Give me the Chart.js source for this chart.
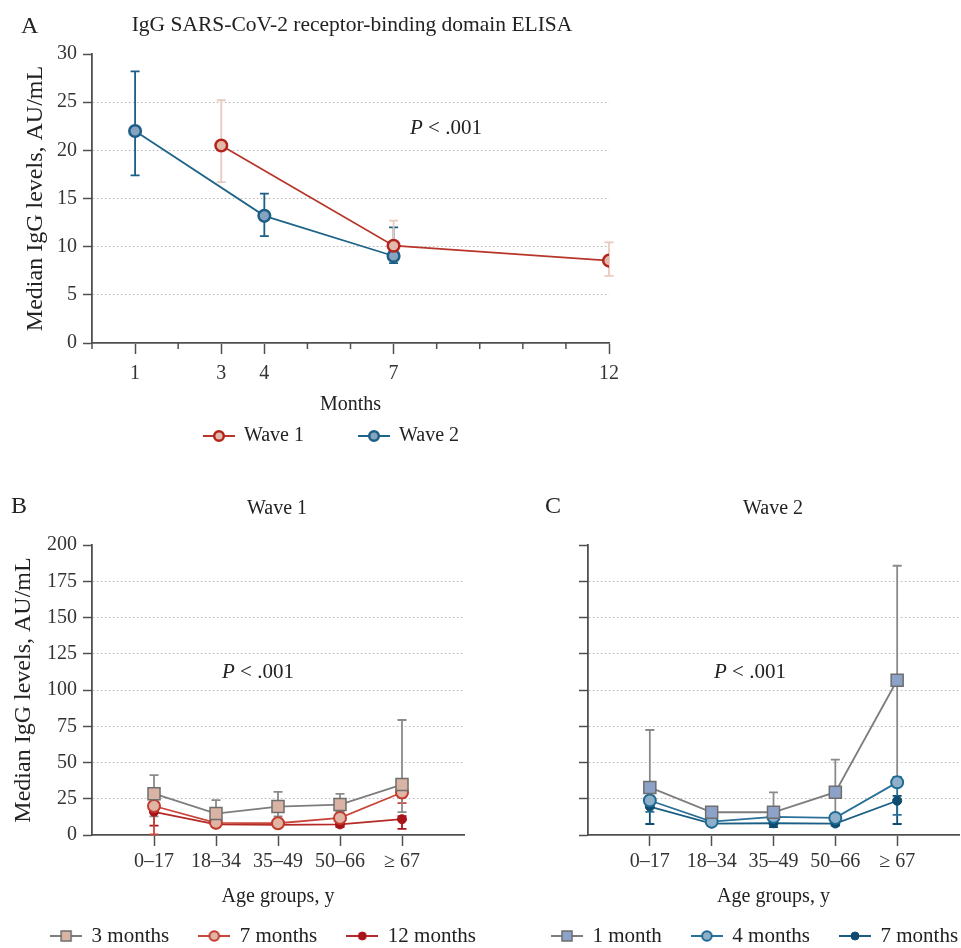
<!DOCTYPE html>
<html><head><meta charset="utf-8">
<script src="https://cdn.jsdelivr.net/npm/chart.js@4.4.1/dist/chart.umd.min.js"></script>
<style>
html,body{margin:0;padding:0;background:#fff;overflow:hidden;width:961px;height:948px;}
body{position:relative;font-family:'Liberation Serif',serif;color:#222;}
canvas{position:absolute;}
.t{position:absolute;white-space:nowrap;line-height:1;transform:translate(-50%,-50%);}
.l{position:absolute;white-space:nowrap;line-height:1;transform:translateY(-50%);}
</style></head><body>
<canvas id="cA" width="663" height="460" style="left:0;top:0"></canvas>
<canvas id="cB" width="527" height="490" style="left:0;top:470px"></canvas>
<canvas id="cC" width="510" height="490" style="left:500px;top:470px"></canvas>
<div class="l" style="left:21px;top:25px;font-size:24px">A</div>
<div class="t" style="left:352px;top:25px;font-size:21.5px">IgG SARS-CoV-2 receptor-binding domain ELISA</div>
<div class="t" style="left:446px;top:127px;font-size:21px"><i>P</i> &lt; .001</div>
<div class="l" style="left:11px;top:505px;font-size:24px">B</div>
<div class="l" style="left:545px;top:505px;font-size:24px">C</div>
<div class="t" style="left:277px;top:507px;font-size:20px">Wave 1</div>
<div class="t" style="left:773px;top:507px;font-size:20px">Wave 2</div>
<div class="t" style="left:258px;top:671px;font-size:21px"><i>P</i> &lt; .001</div>
<div class="t" style="left:750px;top:671px;font-size:21px"><i>P</i> &lt; .001</div>
<script>
// ---------- Panel A data ----------
const monthsWave1 = [3, 7, 12];
const wave1Median = [20.5, 10.1, 8.55];
const wave1Low = [16.7, 8.8, 6.97];
const wave1High = [25.2, 12.7, 10.45];
const monthsWave2 = [1, 4, 7];
const wave2Median = [22.0, 13.2, 9.03];
const wave2Low = [17.4, 11.1, 8.3];
const wave2High = [28.2, 15.5, 12.0];
const monthTickLabels = [1, 3, 4, 7, 12];

// ---------- Panels B / C data ----------
const ageGroups = ['0–17', '18–34', '35–49', '50–66', '≥ 67'];
// Wave 1
const w1m3 = [28.5, 14.8, 19.6, 21.0, 34.8];
const w1m3Low = [12.8, 11.5, 12.8, 16.0, 15.8];
const w1m3High = [41.3, 24.0, 29.7, 28.4, 79.3];
const w1m7 = [20.0, 8.4, 8.1, 11.8, 29.3];
const w1m7Low = [0.5, 6.5, 6.5, 9.0, 22.0];
const w1m7High = [23.0, 10.5, 10.0, 14.0, 33.0];
const w1m12 = [16.0, 7.3, 7.0, 7.3, 10.9];
const w1m12Low = [6.5, 5.5, 5.5, 5.5, 4.2];
const w1m12High = [18.5, 8.5, 8.5, 8.5, 13.0];
// Wave 2
const w2m1 = [32.8, 15.7, 15.7, 29.5, 106.7];
const w2m1Low = [22.0, 13.0, 12.0, 10.0, 36.0];
const w2m1High = [72.4, 17.5, 29.4, 52.0, 185.7];
const w2m4 = [23.8, 9.2, 12.5, 11.8, 36.3];
const w2m4Low = [16.0, 7.5, 9.0, 9.0, 13.9];
const w2m4High = [26.0, 11.0, 14.5, 13.5, 40.0];
const w2m7 = [19.6, 7.9, 8.1, 7.9, 23.6];
const w2m7Low = [7.6, 6.5, 5.5, 6.5, 7.6];
const w2m7High = [22.0, 9.5, 10.0, 9.5, 27.0];

const FONT = "'Liberation Serif', serif";
const AXIS = '#505050';
const GRID = '#b4b4b4';
const TXT = '#222';

function pts(xs, ys) { return xs.map((x, i) => ({x: x, y: ys[i]})); }
function catPts(ys) { return ys.map((y, i) => ({x: i + 1, y: y})); }

function legendIcon(ds) {
  const c = document.createElement('canvas');
  c.width = 32; c.height = 16;
  const g = c.getContext('2d');
  g.strokeStyle = ds.borderColor; g.lineWidth = 2;
  g.beginPath(); g.moveTo(0, 8); g.lineTo(32, 8); g.stroke();
  g.fillStyle = ds.pointBackgroundColor; g.strokeStyle = ds.pointBorderColor; g.lineWidth = ds.pointBorderWidth;
  if (ds.pointStyle === 'rect') {
    g.fillRect(11, 3, 10, 10); g.strokeRect(11, 3, 10, 10);
  } else {
    const r = ds.pointRadius > 5 ? 4.8 : 4;
    g.beginPath(); g.arc(16, 8, r, 0, Math.PI * 2); g.fill(); g.stroke();
  }
  return c;
}

const errorBars = {
  id: 'errorBars',
  beforeDatasetsDraw(chart) {
    const ctx = chart.ctx;
    const ys = chart.scales.y;
    for (let i = chart.data.datasets.length - 1; i >= 0; i--) {
      const ds = chart.data.datasets[i];
      if (!ds.errLow) continue;
      const meta = chart.getDatasetMeta(i);
      ctx.save();
      ctx.strokeStyle = ds.errColor;
      ctx.lineWidth = ds.errWidth || 1.8;
      meta.data.forEach((pt, j) => {
        const x = pt.x;
        const yl = ys.getPixelForValue(ds.errLow[j]);
        const yh = ys.getPixelForValue(ds.errHigh[j]);
        const c = 4.5;
        ctx.beginPath();
        ctx.moveTo(x, yl); ctx.lineTo(x, yh);
        ctx.moveTo(x - c, yl); ctx.lineTo(x + c, yl);
        ctx.moveTo(x - c, yh); ctx.lineTo(x + c, yh);
        ctx.stroke();
      });
      ctx.restore();
    }
  }
};

const minorTicks = {
  id: 'minorTicks',
  afterDraw(chart, args, opts) {
    if (!opts.values) return;
    const xs = chart.scales.x;
    const ctx = chart.ctx;
    ctx.save();
    ctx.strokeStyle = AXIS; ctx.lineWidth = 1.5;
    opts.values.forEach(v => {
      const x = xs.getPixelForValue(v);
      ctx.beginPath(); ctx.moveTo(x, xs.top); ctx.lineTo(x, xs.top + 6); ctx.stroke();
    });
    ctx.restore();
  }
};

function lineDs(label, data, o) {
  return Object.assign({
    label: label, data: data, type: 'line', showLine: true, tension: 0,
    borderWidth: 1.8, pointBorderWidth: 2, pointStyle: 'circle', pointRadius: 6,
    errWidth: 1.8
  }, o);
}

function yAxis(max, step, width, showLabels, titlePad) {
  return {
    type: 'linear', min: 0, max: max,
    ticks: {stepSize: step, padding: 6, display: showLabels, color: '#333', font: {family: FONT, size: 20}},
    grid: {color: c => (c.tick && (c.tick.value === 0 || c.tick.value === max)) ? 'rgba(0,0,0,0)' : GRID,
           lineWidth: 1, tickLength: 9, tickColor: AXIS, tickWidth: 1.5},
    border: {color: AXIS, width: 1.8, dash: [1.5, 2.5]},
    title: {display: showLabels, text: 'Median IgG levels, AU/mL', color: TXT,
            font: {family: FONT, size: 24}, padding: {top: titlePad, bottom: 0}},
    afterFit: s => { s.width = width; }
  };
}
function dummyRight(width) {
  return {type: 'linear', position: 'right', display: true,
    grid: {display: false, drawTicks: false}, ticks: {display: false}, border: {display: false},
    afterFit: s => { s.width = width; }};
}
function legendOpts(size, padding, titleShift) {
  const o = {
    position: 'bottom',
    labels: {
      usePointStyle: true, pointStyleWidth: 30, padding: padding, color: TXT,
      font: {family: FONT, size: size},
      generateLabels: chart => chart.data.datasets.map((ds, i) => ({
        text: ds.label, pointStyle: legendIcon(ds), datasetIndex: i, hidden: false,
        lineWidth: 0, fillStyle: 'rgba(0,0,0,0)', strokeStyle: 'rgba(0,0,0,0)', fontColor: TXT
      }))
    }
  };
  if (titleShift) {
    o.title = {display: true, text: '', font: {size: 10}, padding: {top: titleShift, bottom: titleShift}};
  }
  return o;
}

// ---------- Panel A ----------
new Chart(document.getElementById('cA'), {
  type: 'line',
  data: {datasets: [
    lineDs('Wave 1', pts(monthsWave1, wave1Median), {
      borderColor: '#b8352a', pointBorderColor: '#b3241c', pointBackgroundColor: '#e3b9ab', pointBorderWidth: 2.5, pointRadius: 5.8,
      errLow: wave1Low, errHigh: wave1High, errColor: '#e8cabf'}),
    lineDs('Wave 2', pts(monthsWave2, wave2Median), {
      borderColor: '#1f6489', pointBorderColor: '#1c5e86', pointBackgroundColor: '#86a3c0', pointBorderWidth: 2.5, pointRadius: 5.8,
      errLow: wave2Low, errHigh: wave2High, errColor: '#1c5e86'})
  ]},
  options: {
    responsive: false, animation: false, devicePixelRatio: 1,
    layout: {padding: {left: 0, right: 0, top: 54, bottom: 4}},
    scales: {
      x: {type: 'linear', min: 0, max: 12,
        ticks: {stepSize: 1, autoSkip: false, maxRotation: 0, padding: 8, color: '#333', font: {family: FONT, size: 20},
          callback: v => monthTickLabels.includes(v) ? String(v) : ''},
        grid: {drawOnChartArea: false, tickLength: 11, tickWidth: 1.5,
          tickColor: c => (c.tick && monthTickLabels.includes(c.tick.value)) ? AXIS : 'rgba(0,0,0,0)'},
        border: {color: AXIS, width: 1.8},
        title: {display: true, text: 'Months', color: TXT, font: {family: FONT, size: 20}, padding: {top: 0, bottom: -29}},
        afterFit: s => { s.height = 45; }
      },
      y: yAxis(30, 5, 92, true, 21.6),
      yR: dummyRight(54)
    },
    plugins: {tooltip: {enabled: false}, legend: legendOpts(20, 55, -14.5), minorTicks: {values: [0, 2, 5, 6, 8, 9, 10, 11]}}
  },
  plugins: [errorBars, minorTicks]
});

function ageX() {
  return {type: 'linear', min: 0, max: 6,
    ticks: {stepSize: 1, autoSkip: false, maxRotation: 0, padding: 4, color: '#333', font: {family: FONT, size: 20},
      callback: v => (v >= 1 && v <= 5) ? ageGroups[v - 1] : ''},
    grid: {drawOnChartArea: false, tickLength: 11, tickWidth: 1.5,
      tickColor: c => (c.tick && c.tick.value >= 1 && c.tick.value <= 5) ? AXIS : 'rgba(0,0,0,0)'},
    border: {color: AXIS, width: 1.8},
    title: {display: true, text: 'Age groups, y', color: TXT, font: {family: FONT, size: 20}, padding: {top: 0, bottom: -13.5}},
    afterFit: s => { s.height = 60.5; }
  };
}

// ---------- Panel B ----------
new Chart(document.getElementById('cB'), {
  type: 'line',
  data: {datasets: [
    lineDs('3 months', catPts(w1m3), {
      borderColor: '#7d7d7d', pointStyle: 'rect', pointRadius: 8.5, pointBorderColor: '#6e6e6e', pointBackgroundColor: '#d9b3a3', pointBorderWidth: 1.5,
      errLow: w1m3Low, errHigh: w1m3High, errColor: '#8a8a8a'}),
    lineDs('7 months', catPts(w1m7), {
      borderColor: '#c8463a', pointBorderColor: '#c23b2c', pointBackgroundColor: '#e0b5a6', pointBorderWidth: 2, pointRadius: 6,
      errLow: w1m7Low, errHigh: w1m7High, errColor: '#c8463a'}),
    lineDs('12 months', catPts(w1m12), {
      borderColor: '#b52a26', pointBorderColor: '#a8141a', pointBackgroundColor: '#a8141a', pointBorderWidth: 1, pointRadius: 4.5,
      errLow: w1m12Low, errHigh: w1m12High, errColor: '#a8141a'})
  ]},
  options: {
    responsive: false, animation: false, devicePixelRatio: 1,
    layout: {padding: {left: 0, right: 0, top: 75, bottom: 3.5}},
    scales: {x: ageX(), y: yAxis(200, 25, 92, true, 9.6), yR: dummyRight(63)},
    plugins: {tooltip: {enabled: false}, legend: legendOpts(21, 30)}
  },
  plugins: [errorBars]
});

// ---------- Panel C ----------
new Chart(document.getElementById('cC'), {
  type: 'line',
  data: {datasets: [
    lineDs('1 month', catPts(w2m1), {
      borderColor: '#7d7d7d', pointStyle: 'rect', pointRadius: 8.5, pointBorderColor: '#6e6e6e', pointBackgroundColor: '#8da2c8', pointBorderWidth: 1.5,
      errLow: w2m1Low, errHigh: w2m1High, errColor: '#8a8a8a'}),
    lineDs('4 months', catPts(w2m4), {
      borderColor: '#2a7099', pointBorderColor: '#1f6a92', pointBackgroundColor: '#8fb0cb', pointBorderWidth: 2, pointRadius: 6,
      errLow: w2m4Low, errHigh: w2m4High, errColor: '#2a7099'}),
    lineDs('7 months', catPts(w2m7), {
      borderColor: '#1a5e85', pointBorderColor: '#0e4c70', pointBackgroundColor: '#0e4c70', pointBorderWidth: 1, pointRadius: 4.5,
      errLow: w2m7Low, errHigh: w2m7High, errColor: '#0e4c70'})
  ]},
  options: {
    responsive: false, animation: false, devicePixelRatio: 1,
    layout: {padding: {left: 0, right: 0, top: 75, bottom: 3.5}},
    scales: {x: ageX(), y: yAxis(200, 25, 88, false, 0), yR: dummyRight(51)},
    plugins: {tooltip: {enabled: false}, legend: legendOpts(21, 30)}
  },
  plugins: [errorBars]
});
</script>
</body></html>
